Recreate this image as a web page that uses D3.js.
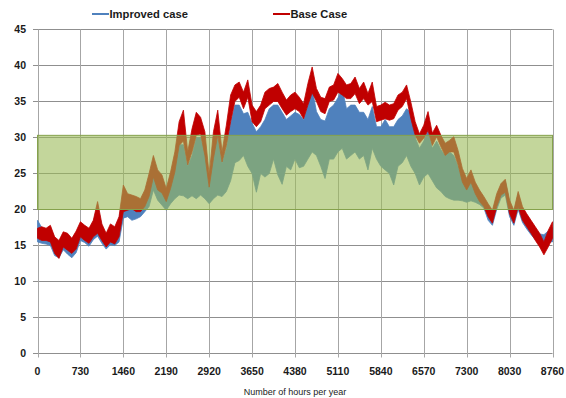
<!DOCTYPE html>
<html>
<head>
<meta charset="utf-8">
<script src="https://d3js.org/d3.v7.min.js"></script>
<style>
  body { margin: 0; background: #ffffff; }
  text { font-family: "Liberation Sans", Arial, sans-serif; fill: #1a1a1a; }
  .tick-label { font-size: 10.5px; font-weight: bold; }
  .legend-label { font-size: 11.2px; font-weight: bold; }
  .axis-title { font-size: 9px; font-weight: normal; }
</style>
</head>
<body>
<div id="chart"></div>
<script>
// hours of the year, one reading every 73 hours
const hours = d3.range(0, 8761, 73);

// Base Case: upper and lower edge of the hourly trace
const baseHi = [17.4, 17.6, 17.4, 17.8, 16.2, 15.7, 16.9, 16.7, 16.0, 17.0,
  18.3, 17.8, 17.4, 18.5, 21.1, 18.0, 16.7, 18.0, 17.6, 19.0,
  23.4, 22.2, 22.0, 21.8, 21.5, 22.7, 25.0, 27.5, 25.5, 24.8,
  22.9, 25.2, 28.0, 32.2, 33.8, 28.0, 31.2, 33.5, 32.8, 30.8,
  24.8, 30.8, 33.8, 28.0, 31.7, 35.9, 37.3, 37.7, 36.3, 38.0,
  34.5, 33.6, 34.5, 36.3, 36.8, 37.0, 37.5, 36.3, 35.2, 35.9,
  36.3, 35.6, 34.7, 37.5, 39.8, 36.8, 35.6, 35.4, 37.0, 37.3,
  38.9, 38.2, 37.3, 37.5, 38.4, 36.8, 37.7, 36.1, 37.7, 34.3,
  34.5, 34.9, 34.5, 34.7, 35.9, 36.3, 37.3, 34.9, 32.2, 30.5,
  31.7, 33.6, 30.6, 31.7, 30.3, 29.2, 29.6, 30.1, 28.2, 25.7,
  24.3, 25.5, 23.8, 22.7, 21.8, 20.8, 19.9, 22.2, 23.6, 24.2,
  21.3, 19.9, 22.5, 20.4, 19.4, 18.5, 17.6, 16.7, 15.5, 17.1, 18.3];
const baseLo = [16.0, 15.7, 15.7, 15.5, 13.9, 13.2, 14.8, 14.35, 13.9, 14.5,
  16.2, 15.7, 15.3, 16.2, 16.7, 15.7, 14.8, 15.5, 15.2, 16.2,
  19.7, 19.9, 20.1, 19.7, 19.7, 20.4, 21.8, 24.5, 22.7, 22.3,
  21.1, 22.9, 25.2, 28.9, 29.5, 26.2, 28.0, 30.3, 30.5, 27.5,
  23.1, 27.1, 30.3, 26.6, 28.9, 32.2, 35.0, 35.6, 34.0, 35.6,
  32.2, 31.5, 32.2, 34.0, 34.5, 35.0, 35.0, 34.0, 33.1, 33.6,
  34.0, 33.6, 32.6, 34.5, 36.2, 35.0, 33.6, 33.3, 35.0, 35.2,
  36.3, 35.9, 35.4, 35.4, 36.1, 34.7, 35.4, 34.5, 35.0, 32.2,
  32.4, 32.6, 32.4, 32.6, 33.8, 34.3, 35.4, 32.6, 30.3, 29.2,
  29.9, 31.0, 28.9, 30.1, 28.7, 27.5, 28.0, 28.0, 26.2, 23.8,
  22.7, 23.8, 22.2, 21.1, 20.4, 19.0, 18.1, 20.4, 22.0, 22.4,
  19.4, 18.1, 20.4, 18.5, 17.6, 16.7, 15.7, 14.8, 13.7, 14.8, 16.0];

// Improved case: upper and lower edge of the hourly trace
const improvedHi = [18.5, 17.5, 17.2, 17.5, 16.0, 15.4, 16.6, 16.4, 15.9, 16.7,
  18.0, 17.5, 17.1, 18.2, 20.5, 17.7, 16.4, 17.7, 17.3, 18.8,
  21.5, 21.5, 21.0, 20.8, 20.8, 21.5, 23.0, 26.0, 24.0, 23.0,
  21.5, 23.5, 26.0, 29.0, 29.0, 26.0, 27.5, 30.0, 30.0, 28.0,
  23.0, 28.0, 30.0, 26.5, 28.5, 32.0, 34.5, 34.5, 33.3, 33.5,
  32.0, 30.8, 31.5, 32.5, 34.0, 34.5, 34.5, 33.5, 32.5, 33.0,
  33.5, 33.2, 32.5, 34.5, 36.8, 33.6, 32.5, 32.3, 34.0, 34.5,
  35.5, 36.8, 34.0, 34.5, 34.5, 33.5, 33.5, 32.5, 34.3, 31.5,
  31.5, 32.5, 31.5, 31.5, 32.5, 33.0, 34.0, 33.5, 30.0, 28.5,
  29.5, 31.0, 28.5, 29.5, 28.3, 27.5, 28.0, 27.5, 26.0, 24.0,
  22.8, 24.0, 22.3, 21.3, 20.8, 20.5, 19.6, 21.8, 23.3, 24.0,
  21.0, 19.6, 22.2, 20.0, 19.1, 18.2, 17.3, 16.6, 16.5, 17.0, 17.5];
const improvedLo = [15.5, 15.3, 15.2, 15.0, 13.6, 13.3, 14.4, 13.8, 13.3, 14.0,
  15.7, 15.4, 14.9, 15.8, 16.3, 15.3, 14.5, 15.1, 15.0, 15.5,
  18.8, 19.0, 18.5, 18.7, 19.0, 19.7, 20.4, 22.7, 21.3, 20.6,
  19.9, 20.8, 21.5, 22.0, 21.9, 21.5, 21.9, 21.5, 22.0, 21.5,
  20.8, 21.5, 22.0, 21.8, 22.5, 24.0, 26.5, 26.8, 27.5, 26.0,
  25.0, 22.4, 25.0, 24.5, 25.0, 27.0, 24.8, 23.5, 26.0, 25.5,
  27.0, 25.8, 26.0, 27.0, 28.0, 27.5, 26.0, 24.3, 27.0, 27.0,
  28.0, 28.5, 27.0, 27.5, 28.0, 27.0, 27.5, 25.5, 28.5, 27.0,
  26.0, 25.5, 25.0, 23.4, 26.0, 26.5, 27.5, 26.0, 25.0, 23.4,
  24.5, 25.0, 24.0, 23.0, 22.5, 21.8, 21.5, 21.3, 21.3, 21.2,
  21.0, 21.2, 21.0, 20.7, 20.2, 18.5, 17.8, 20.0, 21.6, 22.0,
  19.0, 17.8, 20.0, 18.2, 17.3, 16.5, 15.8, 15.2, 14.8, 15.5, 15.5];

// comfort band and axis ticks
const band = [20, 30.3];
const xTicks = [0, 730, 1460, 2190, 2920, 3650, 4380, 5110, 5840, 6570, 7300, 8030, 8760];
const yTicks = [0, 5, 10, 15, 20, 25, 30, 35, 40, 45];
const seriesNames = ["Improved case", "Base Case"];
const seriesColors = ["#4F81BD", "#C00000"];

const W = 566, H = 398;
const svg = d3.select("#chart").append("svg")
  .attr("width", W)
  .attr("height", H);

const x = d3.scaleLinear().domain([0, 8760]).range([37.5, 552.5]);
const y = d3.scaleLinear().domain([0, 45]).range([353.5, 29.5]);

// grid lines (with the small tick marks outside the plot)
svg.append("g")
  .selectAll("line")
  .data(yTicks)
  .join("line")
  .attr("x1", 33)
  .attr("x2", x(8760))
  .attr("y1", d => y(d))
  .attr("y2", d => y(d))
  .attr("stroke", "#8f8f8f")
  .attr("stroke-width", 1);

svg.append("g")
  .selectAll("line")
  .data(xTicks)
  .join("line")
  .attr("x1", d => Math.round(x(d)) + 0.5)
  .attr("x2", d => Math.round(x(d)) + 0.5)
  .attr("y1", y(45))
  .attr("y2", y(0) + 4)
  .attr("stroke", "#a6a6a6")
  .attr("stroke-width", 1);

// tick labels
svg.append("g")
  .selectAll("text")
  .data(yTicks)
  .join("text")
  .attr("class", "tick-label")
  .attr("x", 26)
  .attr("y", d => y(d))
  .attr("dy", "0.36em")
  .attr("text-anchor", "end")
  .text(d => d);

svg.append("g")
  .selectAll("text")
  .data(xTicks)
  .join("text")
  .attr("class", "tick-label")
  .attr("x", d => x(d))
  .attr("y", 375)
  .attr("text-anchor", "middle")
  .text(d => d);

svg.append("text")
  .attr("class", "axis-title")
  .attr("x", (x(0) + x(8760)) / 2)
  .attr("y", 395)
  .attr("text-anchor", "middle")
  .text("Number of hours per year");

// series traces as filled envelopes
const envelope = (lo, hi) => d3.area()
  .x((d, i) => x(hours[i]))
  .y0((d, i) => y(lo[i]))
  .y1((d, i) => y(hi[i]))
  (hours);

const traces = [[improvedLo, improvedHi], [baseLo, baseHi]];
svg.append("g")
  .selectAll("path")
  .data(traces)
  .join("path")
  .attr("d", d => envelope(d[0], d[1]))
  .attr("fill", (d, i) => seriesColors[i])
  .attr("stroke", (d, i) => seriesColors[i])
  .attr("stroke-width", 0.8)
  .attr("stroke-linejoin", "round");

// translucent comfort band on top
svg.append("rect")
  .attr("x", x(0))
  .attr("width", x(8760) - x(0))
  .attr("y", y(band[1]))
  .attr("height", y(band[0]) - y(band[1]))
  .attr("fill", "#9BBB59")
  .attr("fill-opacity", 0.6)
  .attr("stroke", "#85A24C")
  .attr("stroke-width", 1);

// legend
const legendX = [92, 273];
const legend = svg.append("g")
  .selectAll("g")
  .data(seriesNames)
  .join("g")
  .attr("transform", (d, i) => `translate(${legendX[i]}, 14)`);

legend.append("line")
  .attr("x1", 0)
  .attr("x2", 17)
  .attr("stroke", (d, i) => seriesColors[i])
  .attr("stroke-width", 2);

legend.append("text")
  .attr("class", "legend-label")
  .attr("x", 17.5)
  .attr("dy", "0.36em")
  .text(d => d);
</script>
</body>
</html>
